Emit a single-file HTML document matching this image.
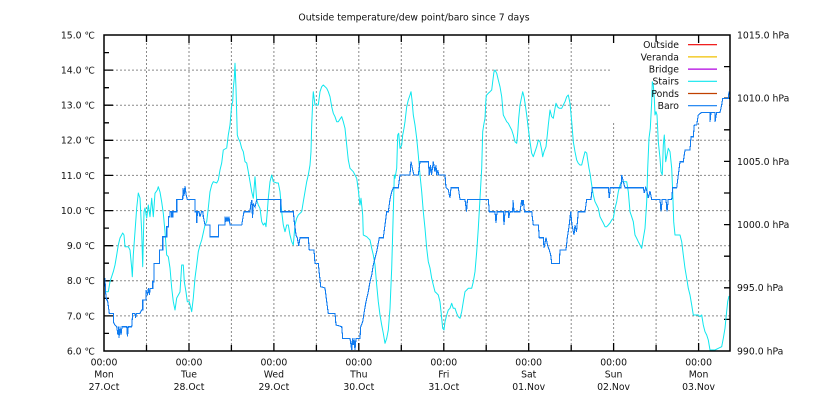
<!DOCTYPE html>
<html><head><meta charset="utf-8"><style>
html,body{margin:0;padding:0;background:#fff;}
svg{display:block;}
text{font-family:"DejaVu Sans","Liberation Sans",sans-serif;font-size:9.3px;fill:#111;}
</style></head><body>
<svg width="820" height="400" viewBox="0 0 820 400" xmlns="http://www.w3.org/2000/svg">
<rect x="0" y="0" width="820" height="400" fill="#fff"/>
<text x="414" y="20.5" text-anchor="middle">Outside temperature/dew point/baro since 7 days</text>

<!-- grid -->
<g stroke="#8a8a8a" stroke-width="1" stroke-dasharray="2,2" fill="none">
<path d="M104,70.1H730M104,105.2H730M104,140.3H730M104,175.4H730M104,210.6H730M104,245.7H730M104,280.8H730M104,315.9H730"/>
<path d="M146.5,35V351M189,35V351M231.4,35V351M273.9,35V351M316.4,35V351M358.8,35V351M401.3,35V351M443.8,35V351M486.2,35V351M528.7,35V351M571.2,35V351M613.6,35V351M656.1,35V351M698.6,35V351"/>
</g>
<rect x="610" y="36" width="119" height="87" fill="#fff"/>

<!-- ticks -->
<g stroke="#000" stroke-width="1.3" fill="none">
<path d="M104,70.1h9M104,105.2h9M104,140.3h9M104,175.4h9M104,210.6h9M104,245.7h9M104,280.8h9M104,315.9h9"/>
<path d="M104,52.6h5M104,87.7h5M104,122.8h5M104,157.9h5M104,193h5M104,228.1h5M104,263.2h5M104,298.3h5M104,333.4h5"/>
<path d="M730,66.6h-6M730,98.2h-6M730,129.8h-6M730,161.4h-6M730,193h-6M730,224.6h-6M730,256.2h-6M730,287.8h-6M730,319.4h-6"/>
<path d="M189,351v-8M273.9,351v-8M358.8,351v-8M443.8,351v-8M528.7,351v-8M613.6,351v-8M698.6,351v-8"/>
<path d="M146.5,351v-6M231.4,351v-6M316.4,351v-6M401.3,351v-6M486.2,351v-6M571.2,351v-6M656.1,351v-6"/>
<path d="M189,35v8M273.9,35v8M358.8,35v8M443.8,35v8M528.7,35v8M613.6,35v8M698.6,35v8"/>
<path d="M146.5,35v7M231.4,35v7M316.4,35v7M401.3,35v7M486.2,35v7M571.2,35v7M656.1,35v7"/>
</g>

<!-- cyan series (Stairs) -->
<polyline fill="none" stroke="#0ee6ee" stroke-width="1" stroke-linejoin="round" points="
105,291.7 108.3,291.7 110,281.7 113.3,271.7 115,265 116.7,255 118.3,245 120,238 122.7,233 124,235 125,246.7 128.3,246.7 130,250 131.7,268 132.3,276.7 133.3,255 135,231.7 136.7,208 138.3,193 140,198 141.7,231.7 142.7,266.7 144,211.7 145,208 146.7,218 148.3,205 150,216.7 151.7,198.3 153.3,216.7 155,193.3 157.3,190 158.3,186.7 160,192 161.7,202 163.3,213.3 165,231.7 166.7,255 168.3,256.7 170,268 171.7,288 173.3,301.7 175,310 176.7,298 180,292 181.7,265 183.3,265 184.3,281.7 186,292 187.3,301.7 189.3,301.7 191.7,311.7 193.3,298 195,278 196.7,265 198.3,251.7 200,245 201.7,240 205,225 206.7,221.7 208.3,208 210,191.7 211.7,185 213.3,181.7 216.7,183 218.3,180 220,170 221.7,163 223.3,150 226.7,148 228.3,135 230,125 231.7,105 232.7,101.7 233.3,88.3 234.3,78.3 235,63.3 236,88.3 237.3,135 238.3,138.3 240,141.7 241.7,148.3 243.3,151.7 245,161.7 246.7,163 248.3,171.7 250,181.7 251.7,191.7 253.3,198.3 255,176.7 256.7,200 258.3,205 260,208.3
261.7,221.7 263.3,225 265,223 266,226.7 267.3,211.7 268.3,198.3 270,181.7 271.7,175 273.3,181.7 276.7,183 278.3,183 280,191.7 281.7,211.7 283.3,225 285,231.7 286.7,225 288.3,225 290,235 291.7,241.7 293.3,245 295,225 296.7,218.3 298.3,215 301.7,211.7 303.3,201.7 305,191.7 306.7,181.7 308.3,175 310,165 311,151.7 311.7,125 312.7,101.7 313.3,91.7 315,105 318.3,105 320,91.7 321.7,86.7 323.3,85 326.7,88.3 328.3,91.7 330,96.7 331.7,106.7 333.3,113.3 335,116.7 336.7,121.7 338.3,121.7 341.7,116.7 343.3,121.7 345,128.3 346.7,145 348.3,160 350,168.3 353.3,171.7 355,175 356.7,178.3 358.3,190 360,205 361,198.3 362.7,215 363.3,235 366.7,236.7 368.3,238.3 370,240 371.7,248.3 373.3,255 375,265 376.7,285 378.3,301.7 380,315 381.7,325 383.3,333.3 385,343.3 386.7,338.3 388.3,330 390,308.3 391.7,268.3 393.3,211.7 394.3,175 395,178.3 396.7,168.3 397.7,135 398.7,133.3 400,148.3 401.7,145 402.7,135 404,128.3 405,121.7 406.7,106.7 408.3,100 410,95 411,91.7 412,100 413.3,115 415,125 416.7,138.3 418.3,155 420,175
421.7,191.7 423.3,211.7 425,228.3 426.7,248.3 428.3,261.7 430,268 431.7,278.3 433.3,285 435,291.7 436.7,293.3 438.3,295 440,301.7 441.7,318.3 442.7,328.3 444,330 445,321.7 446.7,315 448.3,310 450,308.3 451.7,303.3 453.3,308.3 455,308.3 456.7,313.3 458.3,316.7 460,318.3 461.7,311.7 463.3,301.7 465,291.7 466.7,290 468.3,288.3 471.7,288.3 473.3,281.7 475,271.7 476.7,251.7 478.3,228.3 480,198.3 481.7,168.3 482.7,131.7 484,123.3 485,118.3 486,98.3 486.7,95 488.3,93.3 490,91.7 491.7,90 492.7,81.7 494,71.7 495,70 496.7,73.3 498.3,80 500,86.7 501.7,96.7 503.3,115 505,118.3 506.7,121.7 508.3,123.3 510,126.7 511.7,130 513.3,135 515,141.7 516.7,143.3 517.7,133.3 518.7,118.3 520,105 521.7,96.7 522.7,91.7 524,96.7 525.3,105 526.7,115 528.3,128.3 530,141.7 531.7,153.3 533.3,156.7 535,151.7 536.7,146.7 538.3,140 540,141.7 541.7,150 542.7,156.7 544,151.7 546,146.7 547.3,135 548.3,125 550,110 551.7,116.7 553.3,118.3 555,108.3 556,103.3 557.3,106.7 559.3,108.3 561.7,108.3 563.3,105 565,101.7 566.7,96.7 568.3,95 570,103.3 571.7,121.7 573.3,141.7 575,151.7 576.7,160 578.3,163.3
580,165 581.7,165 583.3,158.3 585,151.7 586.7,153 587.7,160 589,168.3 590,173.3 591.7,185 593.3,195 595,201.7 596.7,205 598.3,208.3 600,216.7 601.7,220 603.3,223 605,226.7 606.7,226.7 608.3,225 610,223 611.7,220 613.3,218.3 615,208.3 616.7,201.7 618.3,191.7 620,185 621.7,181.7 626.7,181.7 628.3,191.7 630,211.7 631.7,216.7 633.3,221.7 635,235 636.7,238.3 638.3,241.7 640,245 641.7,248.3 643.3,238.3 645,228.3 646.7,201.7 647.7,168.3 649,138.3 650.3,128.3 651.7,101.7 652.3,81.7 653.3,85 654.3,98.3 655,115 656,111.7 657,115 658.3,141.7 660,158.3 661,171.7 662.3,175 663.3,145 664.3,135 665.7,161.7 667,155 668.3,148.3 670,151.7 671.7,168.3 672.7,191.7 673.7,221.7 675,235 680,235 681.7,241.7 683.3,255 685,268.3 686.7,278.3 688.3,288.3 690,295 691.7,305 693.3,315 698.3,315 700,316.7 701.7,315 703.3,325 705,331.7 706.7,335 708.3,340 710,350 715,350 718.3,348.3 721.7,346.7 723.3,338.3 725,328.3 726.3,315 727.7,301.7 729,296"/>

<!-- blue series (Baro) -->
<polyline fill="none" stroke="#0f7bf0" stroke-width="1.1" stroke-linejoin="miter" shape-rendering="crispEdges" points="
105,278 105.5,291.7 106.5,300 107.5,300 109.3,313.3 113.3,313.3 113.3,321.7 115,325 116.7,326.7 118,335 118.5,326.7 119,338 120,326.7 121,335 122,326.7 126.7,326.7 127.5,336.7 128.3,326.7 131.7,326.7 132.7,313.3 135,313.3 135.5,318 136.5,313.3 140,313.3 141.7,310 142.7,310 142.7,300 146,300 146,290 147.5,294 148.5,288 149.5,295 150,288.3 152.7,288.3 152.7,281.7 154,281.7 154,263.3 159.3,263.3 159.3,250 162.7,250 162.7,236.7 166.7,236.7 166.7,226.7 168.3,226.7 168.3,216.7 170,216.7 170,211.7 171.7,211.7 171.7,216.7 172.7,216.7 172.7,211.7 176.7,211.7 176.7,199.3 182.7,199.3 183,188 184,196 185,186 186,194 187.3,199.3 195,199.3 195,211.7 196.7,211.7 196.7,223 197.5,211.7 199,211.7 200,216.7 201.5,211.7 203,211.7 203.3,216.7 205,225 210,225 210,236.7 218.3,236.7 218.3,225 225,225 225,216.7 226,222 227,216.7 228,222 229,216.7 230,225 241.7,225 242.7,219 244,211.7 250,211.7 250.7,205 251.7,200 252.5,218 253.3,204 255,207 256.7,200 258.3,199.3
280.7,199.3 280.7,211.7 293.3,211.7 294.3,221.7 296,235 297.3,237.7 298.7,246 300,237.7 308.3,237.7 309.3,250 314,250 315,263.3 318.3,263.3 319.3,273.3 320.7,286.7 325,288 326.7,301.7 328.3,313.3 335,313.3 336,325 341.7,326.7 342.7,338.3 350,338.3 351.7,350 352.5,338.3 353.3,345 354,338.3 355,350 356,338.3 360,338.3 360.7,326.7 362.7,321.7 364,313.3 366,301.7 368.3,291.7 370,281.7 371.7,275 373.3,265 375,258 376.7,251.7 379.3,237.7 383.3,237.7 385,225 386.7,211.7 388.3,211.7 390,199.3 391.7,191.7 393.3,187.7 398.3,187.7 400,175 410,175 411,161.7 412.7,170 414,175 418.3,175 420,161.7
428.3,161.7 429.3,175 430.5,165 431.5,175 433.3,161.7 435,172 436,165 436.7,175 438,170 438.5,175 445,175 446,187.7 448.3,190 450,198 451,187.7 458.3,187.7 460,199.3 465,199.3 466.5,211.7 467.5,199.3 488.3,199.3 489.3,211.7 495,211.7 496,223 497,211.7 503.3,211.7 504,225 505,211.7 508.3,211.7 508.7,218 510,211.7 512.7,211.7 513,200 514,211.7 520,211.7 521.7,200 522.5,206 523.3,200 524.5,211.7 531.7,211.7 533.3,225 538.3,225 539.3,237.7 543.3,237.7 544,248 546,237.7 547.7,245.7 549.3,250 550.7,255 551.7,263.3 559.3,263.3 560,250 566,250 567.3,237.7 569,226.7 570.7,211.7 572,225 574,235 575,225
576.5,232 578.3,211.7 585,211.7 586.7,199.3 591,199.3 592.3,187.7 608.3,187.7 609.3,198 610.3,187.7 621,187.7 621.7,175 623.3,181.7 625,187.7 643.3,187.7 644.3,193 645.7,187.7 647,191.7 648.3,198 650,191 651.7,199.3 660,199.3 661,211.7 662.3,199.3 666,199.3 667,211.7 668.3,199.3 671.7,199.3 672.7,187.7 676.7,187.7 678.3,175 680,161.7 683.3,161.7 685,150 690,150 691,136.7 693.3,136.7 694.3,125 696.7,125 698.3,115 701.7,112.3 710,112.3 710,122 711,112.3 715,112.3 715,122 716.7,112.3 720,112.3 721.7,105 722.7,98.3 728.3,98.3 729,91.7"/>

<!-- frame -->
<rect x="104" y="35" width="626" height="316" fill="none" stroke="#000" stroke-width="1.5"/>

<!-- left labels -->
<g text-anchor="end">
<text x="95" y="38.4">15.0 ℃</text>
<text x="95" y="73.5">14.0 ℃</text>
<text x="95" y="108.6">13.0 ℃</text>
<text x="95" y="143.7">12.0 ℃</text>
<text x="95" y="178.8">11.0 ℃</text>
<text x="95" y="214">10.0 ℃</text>
<text x="95" y="249.1">9.0 ℃</text>
<text x="95" y="284.2">8.0 ℃</text>
<text x="95" y="319.3">7.0 ℃</text>
<text x="95" y="354.4">6.0 ℃</text>
</g>
<!-- right labels -->
<g text-anchor="start">
<text x="737" y="38.4">1015.0 hPa</text>
<text x="737" y="101.6">1010.0 hPa</text>
<text x="737" y="164.8">1005.0 hPa</text>
<text x="737" y="228">1000.0 hPa</text>
<text x="737" y="291.2">995.0 hPa</text>
<text x="737" y="354.4">990.0 hPa</text>
</g>
<!-- x labels -->
<g text-anchor="middle">
<text x="104" y="365.7">00:00</text><text x="104" y="377.5">Mon</text><text x="104" y="390">27.Oct</text>
<text x="189" y="365.7">00:00</text><text x="189" y="377.5">Tue</text><text x="189" y="390">28.Oct</text>
<text x="273.9" y="365.7">00:00</text><text x="273.9" y="377.5">Wed</text><text x="273.9" y="390">29.Oct</text>
<text x="358.8" y="365.7">00:00</text><text x="358.8" y="377.5">Thu</text><text x="358.8" y="390">30.Oct</text>
<text x="443.8" y="365.7">00:00</text><text x="443.8" y="377.5">Fri</text><text x="443.8" y="390">31.Oct</text>
<text x="528.7" y="365.7">00:00</text><text x="528.7" y="377.5">Sat</text><text x="528.7" y="390">01.Nov</text>
<text x="613.6" y="365.7">00:00</text><text x="613.6" y="377.5">Sun</text><text x="613.6" y="390">02.Nov</text>
<text x="698.6" y="365.7">00:00</text><text x="698.6" y="377.5">Mon</text><text x="698.6" y="390">03.Nov</text>
</g>

<!-- legend -->
<g text-anchor="end">
<text x="679" y="48.1">Outside</text>
<text x="679" y="60.3">Veranda</text>
<text x="679" y="72.5">Bridge</text>
<text x="679" y="84.7">Stairs</text>
<text x="679" y="96.9">Ponds</text>
<text x="679" y="109.1">Baro</text>
</g>
<g stroke-width="1.2">
<line x1="688" y1="44.7" x2="717" y2="44.7" stroke="#ee0000"/>
<line x1="688" y1="56.9" x2="717" y2="56.9" stroke="#f0c000"/>
<line x1="688" y1="69.1" x2="717" y2="69.1" stroke="#b000e0"/>
<line x1="688" y1="81.3" x2="717" y2="81.3" stroke="#0ee6ee"/>
<line x1="688" y1="93.5" x2="717" y2="93.5" stroke="#c04000"/>
<line x1="688" y1="105.7" x2="717" y2="105.7" stroke="#0f7bf0"/>
</g>
</svg>
</body></html>
